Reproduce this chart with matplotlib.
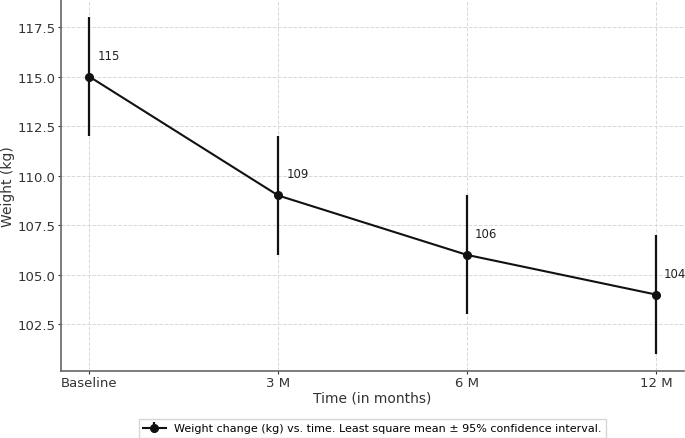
import numpy as np
import matplotlib.pyplot as plt

timepoints = ["Baseline", "3 M", "6 M", "12 M"]
weight = [115, 109, 106, 104]
ci = [3, 3, 3, 3]


def plot_weight(fname="out.png"):
    fig = plt.figure(figsize=(6.85, 4.39), dpi=100)
    ax = fig.add_axes([0.089, 0.153, 0.91, 0.844])
    xs = np.arange(len(timepoints))
    ax.errorbar(xs, weight, yerr=ci, fmt='-o', color='#111111', ecolor='#111111',
                elinewidth=1.6, linewidth=1.5, markersize=5.5, capsize=0,
                label="Weight change (kg) vs. time. Least square mean \u00b1 95% confidence interval.")
    for x, w in zip(xs, weight):
        ax.annotate(str(w), (x, w), textcoords='offset pixels', xytext=(8, 15),
                    ha='left', va='bottom', fontsize=8.5, color='#222222')
    ax.set_xticks(xs)
    ax.set_xticklabels(timepoints)
    ax.set_xlabel("Time (in months)", fontsize=10, color='#333333', labelpad=1)
    ax.set_ylabel("Weight (kg)", fontsize=10, color='#333333', labelpad=2)
    ax.grid(True, linestyle='--', linewidth=0.7, color='#d8d8d8')
    ax.set_axisbelow(True)
    for s in ['top', 'right']:
        ax.spines[s].set_visible(False)
    for s in ['left', 'bottom']:
        ax.spines[s].set_color('#666666')
        ax.spines[s].set_linewidth(1.2)
    ax.tick_params(colors='#333333', labelsize=9.5, length=2, pad=2)
    ax.legend(loc='upper center', bbox_to_anchor=(0.5, -0.115), ncol=1, fontsize=8,
              frameon=True, edgecolor='#cccccc', fancybox=False)
    fig.savefig(fname, dpi=100)


if __name__ == "__main__":
    plot_weight()
